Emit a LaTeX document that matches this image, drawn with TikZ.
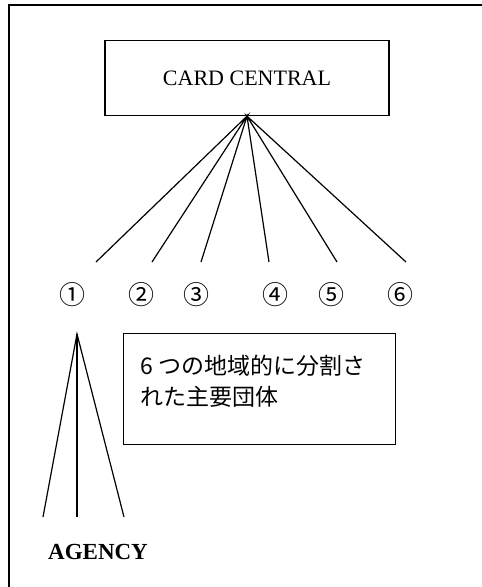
\documentclass[tikz,border=0pt]{standalone}
\usepackage{fontspec}
\setmainfont{Liberation Serif}
\newfontfamily\jp{Noto Sans CJK JP}
\usetikzlibrary{calc}

\begin{document}
\begin{tikzpicture}[x=1pt,y=-1pt]
\useasboundingbox (0,0) rectangle (482,587);
\def\fy{262};
\draw[line width=1.5pt] (482,5)--(9,5)--(9,587);
\node[draw,line width=1.3pt,minimum width=284,minimum height=75,font=\fontsize{22}{24}\selectfont] (card) at (247,78) {CARD CENTRAL};
\coordinate (e1) at (96,\fy);
\coordinate (e2) at (152,\fy);
\coordinate (e3) at (201,\fy);
\coordinate (e4) at (269,\fy);
\coordinate (e5) at (337,\fy);
\coordinate (e6) at (406,\fy);
\draw[line width=1.2pt] (e1)--(card.south)--(e2) (e3)--(card.south)--(e4) (e5)--(card.south)--(e6);
\node[font=\jp\fontsize{26}{26}\selectfont] (n1) at (72,295) {①};
\node[font=\jp\fontsize{26}{26}\selectfont] (n2) at (141,295) {②};
\node[font=\jp\fontsize{26}{26}\selectfont] (n3) at (196,295) {③};
\node[font=\jp\fontsize{26}{26}\selectfont] (n4) at (275,295) {④};
\node[font=\jp\fontsize{26}{26}\selectfont] (n5) at (331,295) {⑤};
\node[font=\jp\fontsize{26}{26}\selectfont] (n6) at (400,295) {⑥};
\node[draw,line width=1.3pt,anchor=north west,inner xsep=17pt,inner ysep=0pt,font=\jp\fontsize{23}{31}\selectfont] (note) at (123,333)
  {\parbox[t][111pt][t]{238pt}{\vspace{21pt}6 つの地域的に分割さ\\れた主要団体}};
\coordinate (top) at (77,334);
\draw[line width=1.2pt] (43,517) coordinate (a1)--(top)--(124,517) coordinate (a3);
\draw[line width=1.2pt] (top)--(77,517) coordinate (a2);
\node[font=\bfseries\fontsize{23}{24}\selectfont] (agency) at (98,552) {AGENCY};

\end{tikzpicture}
\end{document}
